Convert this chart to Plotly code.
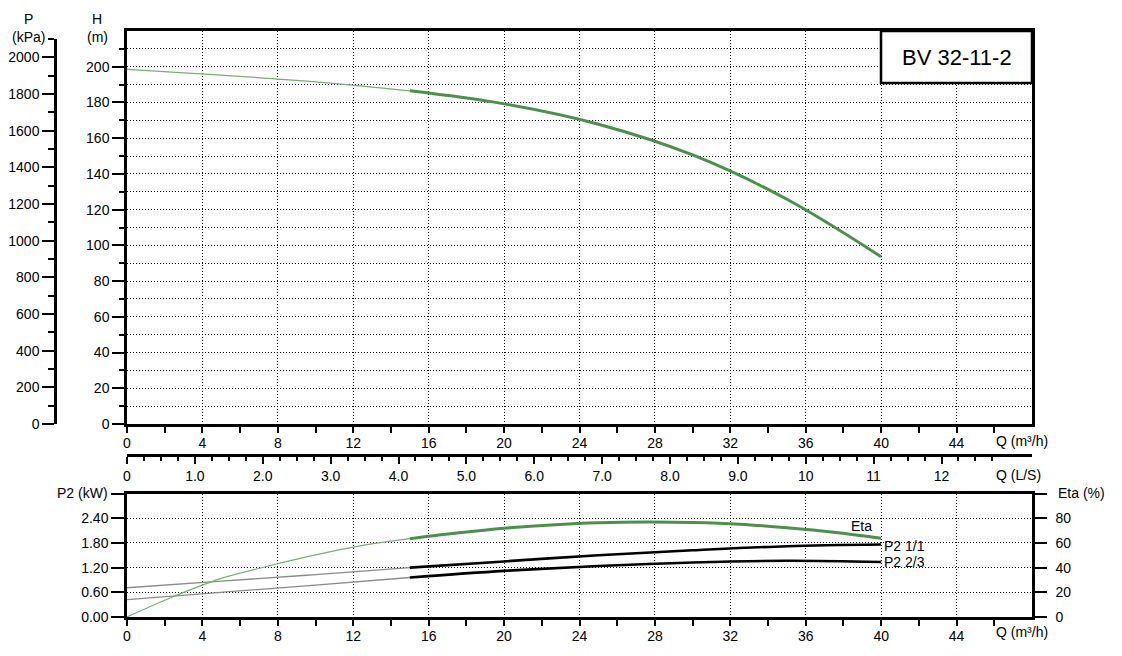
import plotly.graph_objects as go

W, H_ = 1122, 656
FONT = "Liberation Sans, Arial, sans-serif"

# ---- data ----
q_h = [0, 5, 10, 15, 20, 25, 30, 35, 40]
head = [198.5, 195.3, 191.5, 186.5, 179.2, 167.8, 150.6, 125.8, 93.6]

q_p = [0, 5, 10, 15, 20, 25, 30, 35, 40]
p2_full = [0.71, 0.87, 1.03, 1.20, 1.35, 1.50, 1.62, 1.72, 1.76]
p2_23 = [0.42, 0.60, 0.775, 0.96, 1.12, 1.24, 1.325, 1.365, 1.335]

q_e = [0, 2.5, 5, 7.5, 10, 12.5, 15, 17.5, 20, 22.5, 25, 27.5, 30, 32.5, 35, 37.5, 40]
eta = [0, 16.8, 31.3, 41.3, 50.3, 58.0, 63.4, 68.0, 71.9, 74.5, 76.3, 77.0, 76.6, 75.2, 72.3, 68.6, 63.7]

q_split = 15
x_ticks = [0, 4, 8, 12, 16, 20, 24, 28, 32, 36, 40, 44]
x_minor = [2, 6, 10, 14, 18, 22, 26, 30, 34, 38, 42, 46]
h_ticks = list(range(0, 201, 20))
h_minor = list(range(10, 211, 20))
p_ticks = list(range(0, 2001, 200))
p_minor = list(range(100, 2101, 200))
ls_ticks = list(range(0, 13))
ls_labels = ["0", "1.0", "2.0", "3.0", "4.0", "5.0", "6.0", "7.0", "8.0", "9.0", "10", "11", "12"]
ls_minor = [i * 0.25 for i in range(52) if i % 4 != 0]
p2_ticks = [0, 0.6, 1.2, 1.8, 2.4, 3.0]
p2_labels = ["0.00", "0.60", "1.20", "1.80", "2.40", ""]
eta_ticks = [0, 20, 40, 60, 80, 100]
eta_labels = ["0", "20", "40", "60", "80", ""]


def px(x):
    return x / W


def py(y):
    return 1 - y / H_


def split(xs, ys, s):
    lo = [(a, b) for a, b in zip(xs, ys) if a <= s]
    hi = [(a, b) for a, b in zip(xs, ys) if a >= s]
    return [a for a, _ in lo], [b for _, b in lo], [a for a, _ in hi], [b for _, b in hi]


GREEN = "#4b914b"
GREEN_THIN = "#78ad78"
GRAY_THIN = "#8a8a8a"

fig = go.Figure()

xl, yl, xh, yh = split(q_h, head, q_split)
fig.add_trace(go.Scatter(x=xl, y=yl, mode="lines", line=dict(color=GREEN_THIN, width=1.2, shape="spline"),
                         xaxis="x", yaxis="y", showlegend=False))
fig.add_trace(go.Scatter(x=xh, y=yh, mode="lines", line=dict(color=GREEN, width=3, shape="spline"),
                         xaxis="x", yaxis="y", showlegend=False))

for ys in (p2_full, p2_23):
    xl, yl, xh, yh = split(q_p, ys, q_split)
    fig.add_trace(go.Scatter(x=xl, y=yl, mode="lines", line=dict(color=GRAY_THIN, width=1.3, shape="spline"),
                             xaxis="x2", yaxis="y4", showlegend=False))
    fig.add_trace(go.Scatter(x=xh, y=yh, mode="lines", line=dict(color="black", width=2.6, shape="spline"),
                             xaxis="x2", yaxis="y4", showlegend=False))

xl, yl, xh, yh = split(q_e, eta, q_split)
fig.add_trace(go.Scatter(x=xl, y=yl, mode="lines", line=dict(color=GREEN_THIN, width=1.2, shape="spline"),
                         xaxis="x2", yaxis="y5", showlegend=False))
fig.add_trace(go.Scatter(x=xh, y=yh, mode="lines", line=dict(color=GREEN, width=3, shape="spline"),
                         xaxis="x2", yaxis="y5", showlegend=False))

# invisible anchor trace so the free Q (L/S) and P (kPa) axes are drawn
fig.add_trace(go.Scatter(x=[None], y=[None], mode="markers", xaxis="x3", yaxis="y2",
                         showlegend=False, hoverinfo="skip"))

xdom = [px(127), px(1032)]
top_dom = [py(424), py(31)]
bot_dom = [py(617), py(493.5)]
tickfont = dict(family=FONT, size=14, color="black")
DOT = "1px,2px"

common_x = dict(
    domain=xdom, range=[0, 48], showline=True, linewidth=2.5, linecolor="black", automargin=False,
    tickmode="array", tickvals=x_ticks, ticks="outside", ticklen=6, tickwidth=2, tickcolor="black",
    showgrid=True, gridcolor="black", gridwidth=1, griddash=DOT, zeroline=False, ticklabelstandoff=-2,
    minor=dict(tickvals=x_minor, ticks="outside", ticklen=6, tickwidth=2, tickcolor="black", showgrid=False),
    tickfont=tickfont, mirror=True, fixedrange=True,
)

fig.update_layout(
    width=W, height=H_, margin=dict(l=0, r=0, t=0, b=0, pad=0, autoexpand=False),
    paper_bgcolor="white", plot_bgcolor="rgba(0,0,0,0)", showlegend=False,
    font=dict(family=FONT, size=14, color="black"),
    xaxis=dict(anchor="y", **common_x),
    xaxis2=dict(anchor="y4", **common_x),
    xaxis3=dict(domain=xdom, anchor="free", position=py(455), range=[0, 48 / 3.6], automargin=False,
                showline=True, linewidth=2.5, linecolor="black", showgrid=False, zeroline=False,
                tickmode="array", tickvals=ls_ticks, ticktext=ls_labels, ticks="outside",
                ticklen=7, tickwidth=2, tickcolor="black", tickfont=tickfont, ticklabelstandoff=0,
                minor=dict(tickvals=ls_minor, ticks="outside", ticklen=4, tickwidth=2, tickcolor="black",
                           showgrid=False),
                fixedrange=True),
    yaxis=dict(domain=top_dom, anchor="x", range=[0, 220], showline=True, linewidth=2.5, linecolor="black",
               mirror=True, tickmode="array", tickvals=h_ticks, ticks="outside", ticklen=12, tickwidth=2,
               tickcolor="black", showgrid=True, gridcolor="black", gridwidth=1, griddash=DOT,
               zeroline=False, tickfont=tickfont, automargin=False,
               minor=dict(tickvals=h_minor, ticks="outside", ticklen=5, tickwidth=2, tickcolor="black",
                          showgrid=True, gridcolor="black", gridwidth=1, griddash=DOT),
               fixedrange=True),
    yaxis2=dict(domain=[py(424), py(39)], anchor="free", position=px(55), range=[0, 2100],
                showline=True, linewidth=2.5, linecolor="black", showgrid=False, zeroline=False,
                tickmode="array", tickvals=p_ticks, ticks="outside", ticklen=12, tickwidth=2,
                tickcolor="black", tickfont=tickfont, automargin=False,
                minor=dict(tickvals=p_minor, ticks="outside", ticklen=6, tickwidth=2, tickcolor="black",
                           showgrid=False),
                fixedrange=True),
    yaxis3=dict(domain=top_dom, anchor="x", overlaying="y", side="right", range=[0, 220],
                showline=False, showgrid=False, zeroline=False, tickmode="array", tickvals=[0],
                ticktext=["0"], ticks="outside", ticklen=14, tickwidth=2, tickcolor="black",
                tickfont=tickfont, automargin=False, ticklabelstandoff=2, fixedrange=True),
    yaxis4=dict(domain=bot_dom, anchor="x2", range=[0, 3.0], showline=True, linewidth=2.5, linecolor="black",
                tickmode="array", tickvals=p2_ticks, ticktext=p2_labels, ticks="outside", ticklen=13,
                tickwidth=2, tickcolor="black", showgrid=True, gridcolor="black", gridwidth=1,
                griddash=DOT, zeroline=False, tickfont=tickfont, automargin=False, fixedrange=True),
    yaxis5=dict(domain=bot_dom, anchor="x2", overlaying="y4", side="right", range=[0, 100],
                showline=True, linewidth=2.5, linecolor="black", showgrid=False, zeroline=False,
                tickmode="array", tickvals=eta_ticks, ticktext=eta_labels, ticks="outside", ticklen=12,
                tickwidth=2, tickcolor="black", tickfont=tickfont, ticklabelstandoff=6,
                automargin=False, fixedrange=True),
)

# title box
fig.add_shape(type="rect", xref="paper", yref="paper", x0=px(881), x1=px(1032), y0=py(83), y1=py(31),
              line=dict(color="black", width=2.5), fillcolor="white", layer="above")


def ann(text, x, y, xanchor="center", size=14):
    fig.add_annotation(text=text, xref="paper", yref="paper", x=px(x), y=py(y), xanchor=xanchor,
                       yanchor="middle", showarrow=False, font=dict(family=FONT, size=size, color="black"))


ann("BV 32-11-2", 956.5, 57, size=22)
ann("P", 28, 19)
ann("(kPa)", 28, 37)
ann("H", 97, 19)
ann("(m)", 97, 37)
ann("Q (m³/h)", 994, 441, xanchor="left")
ann("Q (L/S)", 994, 475, xanchor="left")
ann("Q (m³/h)", 994, 632, xanchor="left")
ann("P2 (kW)", 110, 493, xanchor="right")
ann("Eta (%)", 1056, 493, xanchor="left")
ann("Eta", 849, 526, xanchor="left")
ann("P2 1/1", 882, 546, xanchor="left")
ann("P2 2/3", 882, 562, xanchor="left")

fig.write_html("out.html", config={"displayModeBar": False},
               post_script="document.body.style.margin='0';document.body.style.overflow='hidden';")
